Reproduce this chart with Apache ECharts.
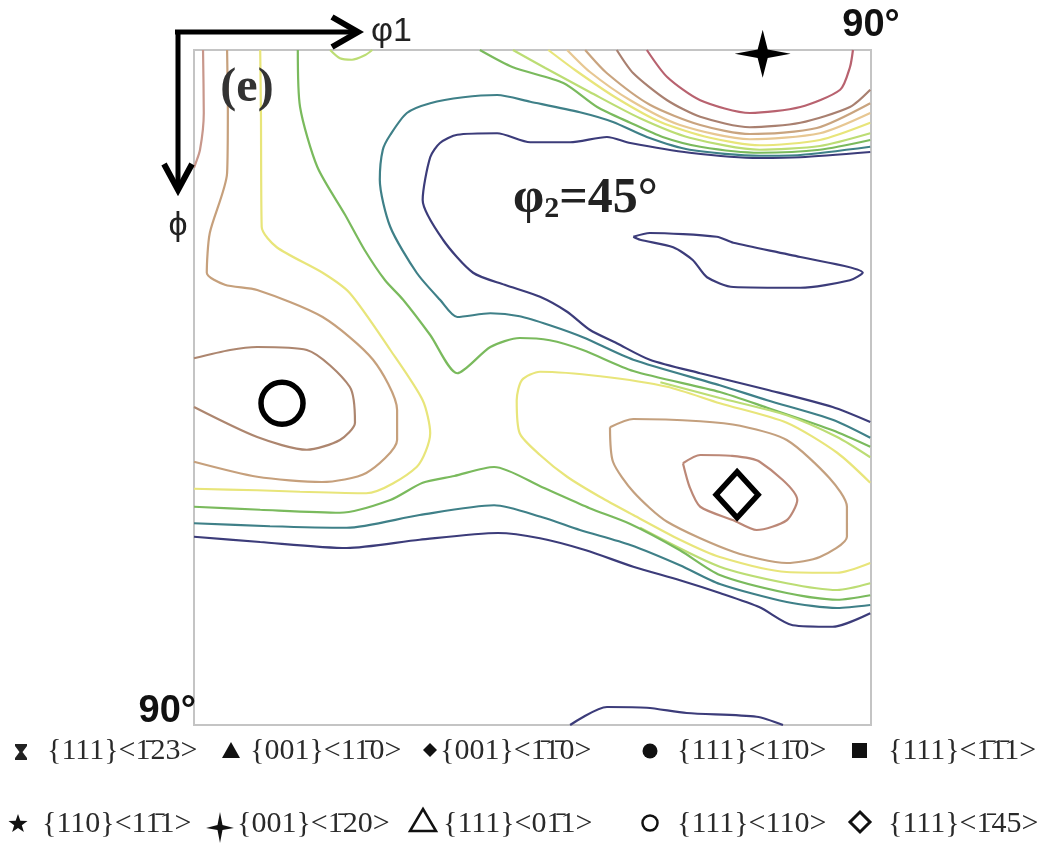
<!DOCTYPE html>
<html><head><meta charset="utf-8">
<script src="https://cdn.jsdelivr.net/npm/echarts@6/dist/echarts.min.js"></script>
<style>html,body{margin:0;padding:0;background:#fff}#c{width:1061px;height:848px}</style>
</head><body><div id="c"></div><script>
// ---- contour lines: [phi1 (deg), Phi (deg)] ----
const navyU = [[89.9,13.6],[80.6,14.3],[75.2,14.4],[65.9,13.7],[58.0,12.4],[54.9,11.6],[50.0,12.3],[44.7,12.3],[40.3,11.1],[35.0,11.3],[32.7,12.4],[31.4,14.3],[30.4,20.0],[33.1,25.3],[37.1,29.7],[41.3,31.3],[46.0,32.9],[49.6,34.9],[52.6,37.3],[56.2,39.1],[60.6,41.3],[67.3,43.1],[76.2,45.3],[84.9,47.6],[89.9,49.6]];
const tealU = [[89.9,12.9],[80.6,14.0],[75.2,14.1],[65.9,13.3],[60.2,11.6],[55.7,9.6],[51.3,8.3],[44.7,6.9],[40.3,6.0],[35.8,6.3],[31.4,7.1],[28.3,8.4],[26.1,11.3],[25.1,13.3],[24.7,17.3],[26.1,23.6],[29.6,29.7],[32.7,33.3],[35.0,35.6],[39.4,35.1],[43.3,35.5],[47.3,36.7],[51.7,38.3],[58.4,41.3],[69.9,44.7],[76.2,46.7],[84.9,49.3],[89.9,51.7]];
const greenV = [[13.8,0],[14.1,7.6],[16.4,15.6],[20.1,22.0],[22.7,26.7],[25.4,30.7],[27.8,33.3],[31.4,38.0],[35.0,43.1],[39.4,39.6],[43.3,38.4],[47.3,38.7],[51.7,40.0],[58.4,42.8],[69.9,45.6],[76.2,47.7],[84.9,50.7],[89.9,52.9]];
const lgreenDip = [[18.1,0],[19.4,1.1],[21.0,1.3],[22.7,0.7],[23.7,0]];
const greenBowl = [[38.0,0],[42.4,2.3],[49.1,4.4],[53.6,7.6],[58.0,9.7],[62.3,11.6],[67.3,12.9],[75.2,13.7],[83.2,13.3],[89.9,12.0]];
const lgreenBowl = [[42.4,0],[46.7,2.4],[52.6,5.6],[59.3,9.1],[65.9,11.7],[75.2,13.3],[83.2,12.8],[89.9,11.1]];
const yellowBowl = [[47.1,0],[50.7,2.7],[56.0,6.3],[62.0,9.6],[68.6,11.7],[75.2,12.7],[83.2,12.0],[89.9,9.7]];
const ltanBowl = [[49.6,0],[52.6,2.9],[58.0,6.7],[64.6,10.0],[73.9,11.9],[83.2,11.1],[89.9,8.4]];
const tanBowl = [[52.0,0],[54.9,3.1],[60.6,7.3],[67.3,10.0],[73.9,11.2],[82.8,10.4],[89.9,7.1]];
const brownBowl = [[56.2,0],[58.4,3.1],[62.9,6.7],[67.3,8.9],[73.9,10.3],[80.6,9.7],[87.2,7.6],[89.9,5.3]];
const pinkBowl = [[60.2,0],[62.9,3.6],[67.3,6.7],[73.9,8.4],[80.6,7.6],[85.9,5.3],[87.2,2.3],[87.6,0]];
const navyIsland = [[58.4,24.9],[60.6,24.4],[69.5,24.9],[71.7,25.7],[80.6,27.6],[88.9,29.7],[87.2,30.7],[80.6,31.7],[71.7,31.6],[68.2,30.3],[66.3,28.0],[63.7,26.3],[59.3,25.3],[58.4,24.9]];
const brownLeft = [[0,41.1],[4.8,40.0],[8.4,39.6],[15.0,40.0],[20.7,44.9],[21.4,49.7],[19.4,52.0],[15.0,53.3],[8.4,51.6],[0,47.6]];
const tanLeft = [[4.4,0],[4.5,8.0],[4.4,16.4],[2.1,24.4],[1.7,29.7],[4.1,31.3],[8.4,32.0],[17.1,35.6],[23.8,41.3],[27.0,48.0],[27.0,52.0],[22.9,56.4],[17.0,57.6],[8.4,56.9],[0,54.9]];
const yellowLeft = [[8.8,0],[8.9,8.4],[9.0,23.6],[11.0,26.3],[17.1,29.7],[20.7,32.4],[26.1,40.0],[30.4,46.7],[31.4,51.1],[29.6,55.6],[22.9,59.1],[14.1,58.9],[8.4,58.7],[0,58.5]];
const cornerLine = [[1.2,0],[1.3,8.4],[0.8,13.3],[0,15.7]];
const brownRight = [[65.0,55.1],[67.3,54.0],[71.3,54.1],[75.2,54.9],[80.2,60.0],[78.8,62.7],[74.8,64.0],[71.7,62.7],[67.3,60.9],[65.9,58.3],[65.0,55.1]];
const tanRight = [[55.3,50.3],[58.4,49.2],[67.3,49.5],[72.6,50.1],[78.8,52.0],[84.5,57.1],[86.8,60.9],[86.8,64.9],[83.2,67.6],[78.8,68.4],[71.7,66.9],[62.9,62.9],[58.4,58.9],[55.7,54.9],[55.3,50.3]];
const yellowRight = [[89.9,57.7],[85.5,53.7],[78.8,49.7],[69.9,47.1],[62.9,44.9],[54.0,43.5],[46.0,42.9],[43.6,44.0],[42.9,46.7],[43.3,51.1],[46.0,54.0],[49.6,56.9],[54.0,59.6],[58.4,62.0],[64.6,65.3],[69.9,67.6],[78.8,69.6],[85.5,69.7],[89.9,68.4]];
const lgreenUpper = [[62.0,44.3],[69.9,46.4],[78.8,48.7],[85.5,51.6],[89.9,54.3]];
const lgreenLower = [[59.3,63.7],[69.9,68.9],[78.8,71.1],[85.5,72.0],[89.9,71.1]];
const greenLower = [[0,60.9],[8.8,61.3],[19.4,61.7],[26.1,60.0],[30.4,57.7],[34.6,56.8],[39.9,55.6],[46.3,58.3],[52.6,61.1],[58.0,63.2],[64.6,66.7],[69.9,70.0],[78.8,72.4],[85.5,73.3],[89.9,72.7]];
const tealLower = [[0,63.1],[10.1,63.5],[20.3,63.7],[30.0,62.0],[39.9,60.7],[46.3,62.3],[51.3,64.0],[58.0,66.0],[64.6,68.7],[69.9,71.2],[78.8,73.6],[85.5,74.4],[89.9,74.0]];
const navyLower = [[0,64.9],[8.8,65.6],[20.3,66.4],[30.0,65.3],[40.4,64.4],[46.0,65.1],[52.1,66.7],[58.4,68.9],[64.6,70.7],[69.9,72.4],[75.2,74.3],[79.6,76.7],[84.9,76.9],[89.9,75.1]];
const navyBottom = [[50.0,90],[54.9,87.6],[60.2,87.7],[65.5,88.4],[74.8,88.9],[78.3,90]];

// ---- texture component markers inside the section ----
const circleMarker = [[11.7,47.1]];   // {111}<110>
const diamondMarker = [[72.2,59.3]];  // {111}<-145>
const crossMarker = [[75.6,0.5]];     // {001}<-120>

// ---- legend labels ----
const B = '\u0304';
const legendRow1 = ['{111}<1'+B+'23>','{001}<11'+B+'0>','{001}<1'+B+'1'+B+'0>','{111}<11'+B+'0>','{111}<1'+B+'1'+B+'1>'];
const legendRow2 = ['{110}<11'+B+'1>','{001}<1'+B+'20>','{111}<01'+B+'1>','{111}<110>','{111}<1'+B+'45>'];

const C = {navy:'#3c3c7a', teal:'#3f8088', green:'#7aba5d', lgreen:'#bcdd74', yellow:'#e8e57a',
  ltan:'#e7c792', tan:'#c9a47f', brown:'#a98070', pink:'#b8626f', tanL:'#c6a07c', brownL:'#ad866f',
  corner:'#c8978b', tanR:'#c4a07e', brownR:'#bc8877'};

const lines = [
  [navyU,C.navy],[tealU,C.teal],[greenV,C.green],[lgreenDip,C.lgreen],
  [greenBowl,C.green],[lgreenBowl,C.lgreen],[yellowBowl,C.yellow],[ltanBowl,C.ltan],[tanBowl,C.tan],[brownBowl,C.brown],[pinkBowl,C.pink],
  [navyIsland,C.navy],[brownLeft,C.brownL],[tanLeft,C.tanL],[yellowLeft,C.yellow],[cornerLine,C.corner],
  [brownRight,C.brownR],[tanRight,C.tanR],[yellowRight,C.yellow],[lgreenUpper,C.lgreen],[lgreenLower,C.lgreen],
  [greenLower,C.green],[tealLower,C.teal],[navyLower,C.navy],[navyBottom,C.navy]
];

const series = lines.map(([d,col]) => ({
  type:'line', data:d, symbol:'none', smooth:0.25, silent:true, z:2,
  lineStyle:{color:col, width:2.2}
}));
const star4Path = 'path://M0,-10 L1.8,-1.8 L10,0 L1.8,1.8 L0,10 L-1.8,1.8 L-10,0 L-1.8,-1.8 Z';
series.push({type:'scatter', data:circleMarker, symbol:'circle', symbolSize:42, z:5, silent:true,
  itemStyle:{color:'rgba(0,0,0,0)', borderColor:'#000', borderWidth:5.5, opacity:1}});
series.push({type:'scatter', data:diamondMarker, symbol:'diamond', symbolSize:[42,46], z:5, silent:true,
  itemStyle:{color:'rgba(0,0,0,0)', borderColor:'#000', borderWidth:5.5, opacity:1}});
series.push({type:'scatter', data:crossMarker, symbol:star4Path, symbolSize:[56,48], z:5, silent:true, clip:false,
  itemStyle:{color:'#000', opacity:1}});

// ---- annotation graphics ----
const g = [];
const T = (x,y,text,font,fill,align,va) => g.push({type:'text', x, y, z:10,
  style:{text, font, fill:fill||'#222', align:align||'left', verticalAlign:va||'middle', textAlign:align||'left', textVerticalAlign:va||'middle'}});
// axis arrows
g.push({type:'polyline', z:10, shape:{points:[[175,32],[358,32]]}, style:{stroke:'#000', lineWidth:5, fill:null}});
g.push({type:'polyline', z:10, shape:{points:[[332,17],[358,32],[332,47]]}, style:{stroke:'#000', lineWidth:6, fill:null, lineJoin:'miter'}});
g.push({type:'polyline', z:10, shape:{points:[[178,30],[178,190]]}, style:{stroke:'#000', lineWidth:5, fill:null}});
g.push({type:'polyline', z:10, shape:{points:[[164,164],[178,190],[192,164]]}, style:{stroke:'#000', lineWidth:6, fill:null, lineJoin:'miter'}});
T(371,32,'\u03c61','34px "Liberation Sans"','#222');
T(178,226,'\u03d5','34px "Liberation Sans"','#222','center');
T(871,26,'90\u00b0','bold 38px "Liberation Sans"','#111','center');
T(196,712,'90\u00b0','bold 38px "Liberation Sans"','#111','right');
T(247,89,'(e)','bold 48px "Liberation Serif"','#333','center');
g.push({type:'text', x:513, y:199, z:10, style:{text:'{a|\u03c6}{b|2}{a|=45\u00b0}', align:'left', verticalAlign:'middle', textAlign:'left', textVerticalAlign:'middle',
  rich:{a:{font:'bold 50px "Liberation Serif"', fill:'#222'}, b:{font:'bold 30px "Liberation Serif"', fill:'#222', verticalAlign:'bottom'}}}});

// legend
const r1 = 751, r2 = 824, lf = '30px "Liberation Serif"', lc = '#2a2a2a';
const tx1 = [47,250,440,677,888], tx2 = [42,237,443,677,888];
legendRow1.forEach((s,i)=>T(tx1[i], r1, s, lf, lc));
legendRow2.forEach((s,i)=>T(tx2[i], r2, s, lf, lc));
// row1 symbols
g.push({type:'polygon', z:10, shape:{points:[[15,744],[27,744],[27,746],[22.5,752],[27,758],[27,760],[15,760],[15,758],[19.5,752],[15,746]]}, style:{fill:'#222'}});
g.push({type:'polygon', z:10, shape:{points:[[231,742],[240,758],[222,758]]}, style:{fill:'#111'}});
g.push({type:'polygon', z:10, shape:{points:[[430,743],[437,750],[430,757],[423,750]]}, style:{fill:'#111'}});
g.push({type:'circle', z:10, shape:{cx:650, cy:751, r:7.5}, style:{fill:'#111'}});
g.push({type:'rect', z:10, shape:{x:852, y:743, width:15, height:15}, style:{fill:'#111'}});
// row2 symbols
const st = []; for (let i=0;i<10;i++){ const a=-Math.PI/2+i*Math.PI/5, rr=i%2?4:10; st.push([18+rr*Math.cos(a), 824+rr*Math.sin(a)]); }
g.push({type:'polygon', z:10, shape:{points:st}, style:{fill:'#111'}});
g.push({type:'polygon', z:10, shape:{points:[[220,812],[222.5,825],[234,828],[222.5,830],[220,843],[217.5,830],[206,828],[217.5,825]]}, style:{fill:'#111'}});
g.push({type:'polygon', z:10, shape:{points:[[423,809],[436,831],[410,831]]}, style:{fill:null, stroke:'#111', lineWidth:2.5}});
g.push({type:'circle', z:10, shape:{cx:650, cy:823, r:7.5}, style:{fill:null, stroke:'#111', lineWidth:2.5}});
g.push({type:'polygon', z:10, shape:{points:[[860,812],[870,822],[860,832],[850,822]]}, style:{fill:null, stroke:'#111', lineWidth:3}});

const chart = echarts.init(document.getElementById('c'), null, {renderer:'canvas'});
chart.setOption({
  animation:false,
  backgroundColor:'#fff',
  grid:{left:194, top:50, right:190, bottom:123, show:true, borderColor:'#c4c4c4', borderWidth:2, backgroundColor:'#fff'},
  xAxis:{type:'value', min:0, max:90, show:false},
  yAxis:{type:'value', min:0, max:90, inverse:true, show:false},
  series,
  graphic:g
});
</script></body></html>
